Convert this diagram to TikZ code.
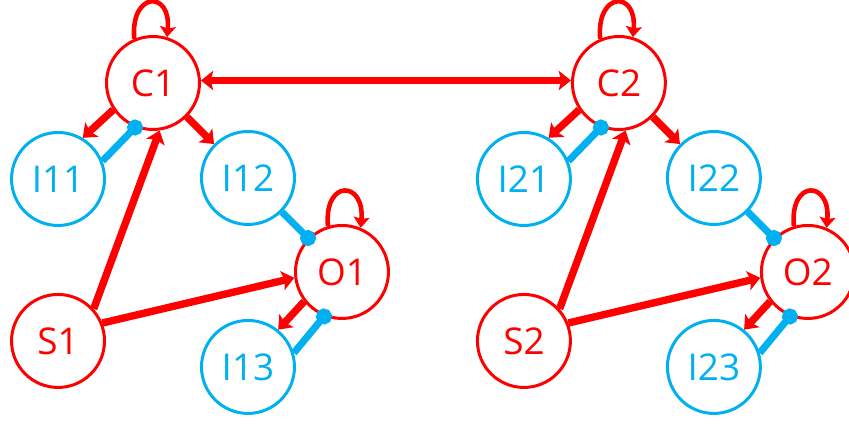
\documentclass[tikz,border=0pt]{standalone}
\usepackage{fontspec}
\setmainfont{Open Sans}
\usetikzlibrary{positioning,arrows.meta}
\definecolor{cred}{RGB}{255,0,0}
\definecolor{cblue}{RGB}{0,176,240}
\tikzset{
  rnode/.style={circle, draw=cred, text=cred, line width=1.7pt, minimum size=1.86cm, inner sep=0pt, font=\fontsize{21}{24}\selectfont},
  bnode/.style={rnode, draw=cblue, text=cblue},
  redge/.style={draw=cred, line width=4.2pt, >={Stealth[length=7pt,width=11pt,inset=1.5pt]}, ->},
  bedge/.style={draw=cblue, line width=4pt, -{Circle[length=9pt]}, shorten >=-4.5pt},
  rloop/.style={draw=cred, line width=2.6pt, -{Stealth[length=6pt,width=9pt,inset=1pt]}},
}
\begin{document}
\begin{tikzpicture}[x=0.02cm, y=-0.02cm, on grid]
 \useasboundingbox (0,0) rectangle (849,423);
% nodes
 \node[rnode] (c1) at (153,83) {C1};
 \node[bnode, below left=1.92cm and 1.9cm of c1] (i11) {I11};%
 \node[bnode, below right=1.9cm and 1.9cm of c1] (i12) {I12};%
 \node[rnode, below right=1.88cm and 1.88cm of i12] (o1) {O1};%
 \node[rnode, below=3.24cm of i11] (s1) {S1};%
 \node[bnode, below left=1.9cm and 1.88cm of o1] (i13) {I13};%

 \node[rnode, right=9.32cm of c1] (c2) {C2};
 \node[bnode, below left=1.92cm and 1.9cm of c2] (i21) {I21};%
 \node[bnode, below right=1.9cm and 1.9cm of c2] (i22) {I22};%
 \node[rnode, below right=1.88cm and 1.88cm of i22] (o2) {O2};%
 \node[rnode, below=3.24cm of i21] (s2) {S2};%
 \node[bnode, below left=1.9cm and 1.88cm of o2] (i23) {I23};%

% edges
 \draw[redge, <->] (c1.3) -- (c2.177);

 \draw[redge] (c1.214) -- (i11.59);
 \draw[bedge] (i11.22) -- (c1.248);
 \draw[redge] (c1) -- (i12);
 \draw[bedge] (i12) -- (o1);
 \draw[redge] (s1.42) -- (c1.278);
 \draw[redge] (s1.22) -- (o1.187);
 \draw[redge] (o1.218) -- (i13.51);
 \draw[bedge] (i13.17) -- (o1.248);
 \draw[rloop] (c1.113) .. controls +(95:0.95cm) and +(85:0.95cm) .. (c1.73);
 \draw[rloop] (o1.107) .. controls +(95:0.95cm) and +(85:0.95cm) .. (o1.67);

 \draw[redge] (c2.214) -- (i21.59);
 \draw[bedge] (i21.22) -- (c2.248);
 \draw[redge] (c2) -- (i22);
 \draw[bedge] (i22) -- (o2);
 \draw[redge] (s2.42) -- (c2.278);
 \draw[redge] (s2.22) -- (o2.187);
 \draw[redge] (o2.218) -- (i23.51);
 \draw[bedge] (i23.17) -- (o2.248);
 \draw[rloop] (c2.113) .. controls +(95:0.95cm) and +(85:0.95cm) .. (c2.73);
 \draw[rloop] (o2.107) .. controls +(95:0.95cm) and +(85:0.95cm) .. (o2.67);
\end{tikzpicture}
\end{document}
